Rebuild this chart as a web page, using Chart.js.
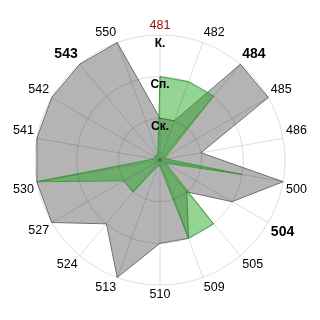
<!DOCTYPE html>
<html>
<head>
<meta charset="utf-8">
<script src="https://cdn.jsdelivr.net/npm/chart.js@4/dist/chart.umd.min.js"></script>
<style>
  html, body { margin:0; padding:0; background:#fff; }
  #wrap { width:320px; height:320px; }
</style>
</head>
<body>
<div id="wrap"><canvas id="radar" width="320" height="320"></canvas></div>
<script>
// ===== data =====
const categories = ['481','482','484','485','486','500','504','505','509','510','513','524','527','530','541','542','543','550'];
const grayValues  = [1,1,3,3,1,3,2,1,2,2,3,2,3,3,3,3,3,3];
// "none" in the green series still sits a little off the centre in the picture
const greenValues = [2,2,2,0.15,0.15,2,0.15,2,2,0.15,0.15,1,1,3,0.15,0.15,0.15,0.15];
const tickLabels  = ['', 'Ск.', 'Сп.', 'К.'];   // 0..3
const boldCats    = ['484','504','543'];
const redCat      = '481';

const FONT = 'Arial, "Liberation Sans", sans-serif';

new Chart(document.getElementById('radar'), {
  type: 'radar',
  data: {
    labels: categories,
    datasets: [
      { // green on top
        data: greenValues,
        order: 0,
        backgroundColor: 'rgba(28,165,28,0.47)',
        borderColor: '#3f9f3f',
        borderWidth: 1,
        pointRadius: 0,
        tension: 0
      },
      {
        data: grayValues,
        order: 1,
        backgroundColor: '#b4b4b4',
        borderColor: '#707070',
        borderWidth: 1,
        pointRadius: 0,
        tension: 0
      }
    ]
  },
  options: {
    responsive: false,
    devicePixelRatio: 1,
    animation: false,
    layout: { padding: 13 },
    plugins: { legend: { display: false }, tooltip: { enabled: false } },
    scales: {
      r: {
        min: 0, max: 3,
        grid: { circular: true, color: 'rgba(0,0,0,0.13)', z: 1 },
        angleLines: { color: 'rgba(0,0,0,0.13)' },
        ticks: {
          z: 1,
          stepSize: 1,
          showLabelBackdrop: false,
          backdropPadding: 0,
          color: '#000',
          font: { family: FONT, size: 12, weight: 'bold', lineHeight: '8.5px' },
          // 空的第一行把標籤往下推一點
          callback: (v)=> ['', tickLabels[v] || '']
        },
        pointLabels: {
          padding: -3,
          color: (ctx)=> categories[ctx.index] === redCat ? '#8b1010' : '#000',
          font: (ctx)=> boldCats.includes(categories[ctx.index])
            ? { family: FONT, size: 14, weight: 'bold', lineHeight: 1.1 }
            : { family: FONT, size: 12.5, lineHeight: 1.1 }
        }
      }
    }
  }
});
</script>
</body>
</html>
